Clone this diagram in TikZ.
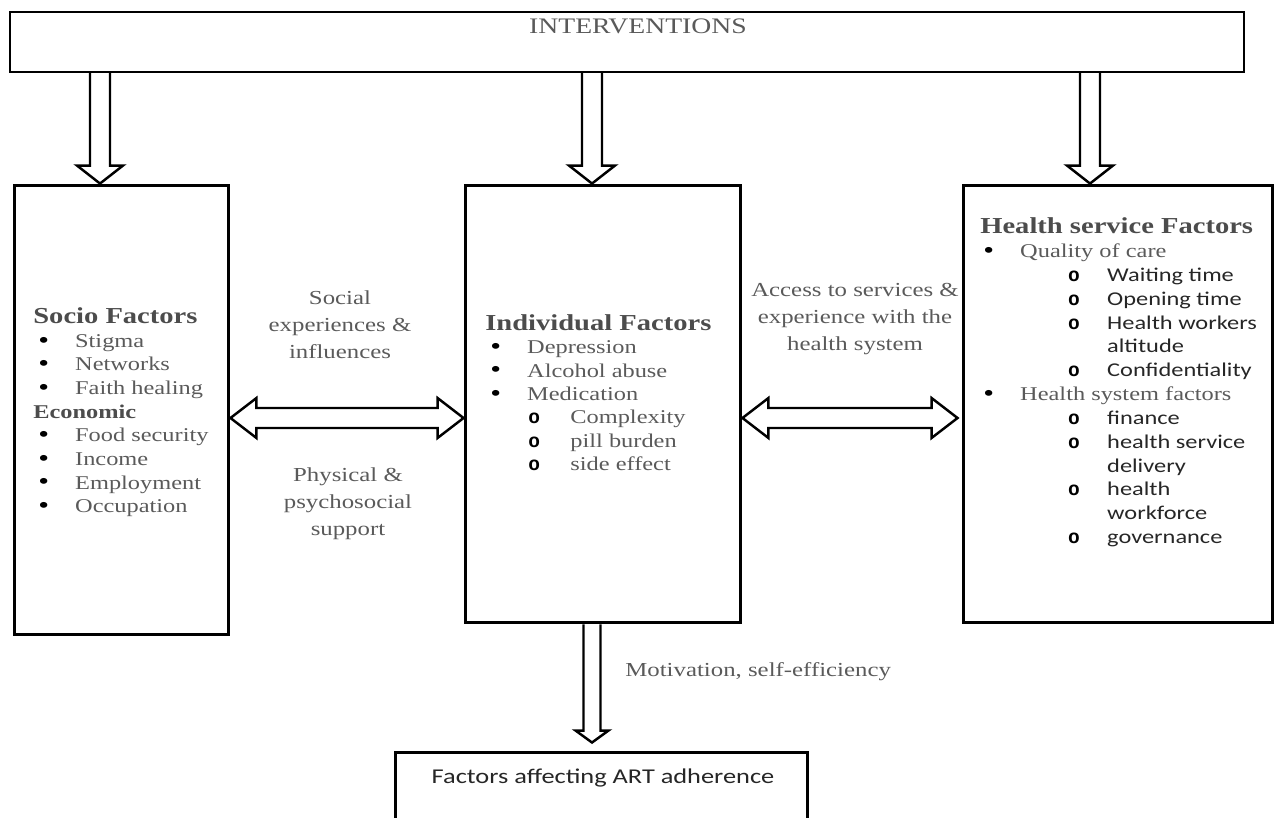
\documentclass[tikz,border=0pt]{standalone}
\usepackage{fontspec}
\setmainfont{Liberation Serif}[FakeStretch=1.25]
\newfontfamily\carlito{Carlito}[FakeStretch=1.25]
\newfontfamily\ringfont{Liberation Mono}
\usetikzlibrary{calc}

\definecolor{txtgrey}{HTML}{5A5A5A}
\definecolor{headgrey}{HTML}{4C4C4C}
\definecolor{sansgrey}{HTML}{262626}

\tikzset{
  factorbox/.style={draw, line width=1.7pt, inner sep=0pt},
  blockarrow/.style={draw, line width=1.4pt},
  listtext/.style={anchor=north west, inner sep=0pt, align=left, text=txtgrey, font=\fontsize{11.1}{13.25}\selectfont},
  linklabel/.style={align=center, inner sep=0pt, text=txtgrey, font=\fontsize{11.3}{15.3}\selectfont}
}

% list helpers
\newcommand{\heading}[1]{{\fontsize{13}{13.25}\selectfont\bfseries\color{headgrey}#1}}
\newcommand{\dotitem}[2]{\hspace*{#1}\makebox[21pt][l]{\color{black}\raisebox{-0.4pt}{\fontsize{14}{14}\selectfont\textbullet}}#2}
\newcommand{\ringitem}[3]{\hspace*{#1}\makebox[#2][l]{\color{black}\ringfont\bfseries o}#3}
\newcommand{\sanstext}[1]{{\carlito\color{sansgrey}#1}}

% hollow arrows: #1 top, #2 tip, #3 shaft half width, #4 head half width, #5 head length
\newcommand{\downblock}[5]{%
  \path[blockarrow] ($#1+(-#3,0)$) -- ($#2+(-#3,-#5)$) -- ($#2+(-#4,-#5)$) -- #2
    -- ($#2+(#4,-#5)$) -- ($#2+(#3,-#5)$) -- ($#1+(#3,0)$);}
% #1 left tip, #2 right tip
\newcommand{\twoway}[2]{%
  \path[blockarrow] #1 -- ($#1+(26,-20)$) -- ($#1+(26,-10)$) -- ($#2+(-26,-10)$) -- ($#2+(-26,-20)$)
    -- #2 -- ($#2+(-26,20)$) -- ($#2+(-26,10)$) -- ($#1+(26,10)$) -- ($#1+(26,20)$) -- cycle;}

\begin{document}
\begin{tikzpicture}[x=0.02cm, y=-0.02cm]
\useasboundingbox (0,0) rectangle (1275,818);
\clip (0,0) rectangle (1275,818);

% boxes
\node[factorbox, line width=0.8pt, minimum width=24.68cm, minimum height=1.2cm] (int) at (627,42) {};
\node[factorbox, minimum width=4.3cm, minimum height=9cm] (soc) at (121.5,410) {};
\node[factorbox, minimum width=5.52cm, minimum height=8.76cm] (ind) at (603,404) {};
\node[factorbox, minimum width=6.2cm, minimum height=8.76cm] (hlth) at (1118,404) {};
\node[factorbox, minimum width=8.26cm, minimum height=2.16cm] (art) at (601.5,806) {};

% titles
\node[anchor=base, inner sep=0pt, text=txtgrey, font=\fontsize{12.6}{15}\selectfont] (inttext) at (638,33) {INTERVENTIONS};
\node[anchor=base, inner sep=0pt, text=sansgrey, font=\carlito\fontsize{12}{14}\selectfont] (arttext) at (603,783) {Factors affecting ART adherence};

% factor lists
\node[listtext, font=\fontsize{11.1}{13.45}\selectfont] (soclist) at (33,307.5) {\heading{Socio Factors}\\
  \dotitem{2.8pt}{Stigma}\\
  \dotitem{2.8pt}{Networks}\\
  \dotitem{2.8pt}{Faith healing}\\
  {\bfseries\color{headgrey}Economic}\\
  \dotitem{2.8pt}{Food security}\\
  \dotitem{2.8pt}{Income}\\
  \dotitem{2.8pt}{Employment}\\
  \dotitem{2.8pt}{Occupation}};
\node[listtext] (indlist) at (485,314.5) {\heading{Individual Factors}\\
  \dotitem{2.8pt}{Depression}\\
  \dotitem{2.8pt}{Alcohol abuse}\\
  \dotitem{2.8pt}{Medication}\\
  \ringitem{24.5pt}{23.9pt}{Complexity}\\
  \ringitem{24.5pt}{23.9pt}{pill burden}\\
  \ringitem{24.5pt}{23.9pt}{side effect}};
\node[listtext, font=\fontsize{11.1}{13.57}\selectfont] (hlthlist) at (980,217.5) {\heading{Health service Factors}\\
  \dotitem{1.7pt}{Quality of care}\\
  \ringitem{50pt}{22.2pt}{\sanstext{Waiting time}}\\
  \ringitem{50pt}{22.2pt}{\sanstext{Opening time}}\\
  \ringitem{50pt}{22.2pt}{\sanstext{Health workers}}\\
  \hspace*{72.2pt}\sanstext{altitude}\\
  \ringitem{50pt}{22.2pt}{\sanstext{Confidentiality}}\\
  \dotitem{1.7pt}{Health system factors}\\
  \ringitem{50pt}{22.2pt}{\sanstext{finance}}\\
  \ringitem{50pt}{22.2pt}{\sanstext{health service}}\\
  \hspace*{72.2pt}\sanstext{delivery}\\
  \ringitem{50pt}{22.2pt}{\sanstext{health}}\\
  \hspace*{72.2pt}\sanstext{workforce}\\
  \ringitem{50pt}{22.2pt}{\sanstext{governance}}};

% link labels
\node[linklabel] (soclink) at (340,325) {Social\\experiences \&\\influences};
\node[linklabel] (supplink) at (348,504) {Physical \&\\psychosocial\\support};
\node[linklabel] (acclink) at (855,319) {Access to services \&\\experience with the\\health system};
\node[linklabel, anchor=base west] (motlink) at (625,676) {Motivation, self-efficiency};

% arrows
\coordinate (socx) at (100,0);
\coordinate (indx) at (592,0);
\coordinate (hlthx) at (1090,0);
\coordinate (lvl) at (0,418);
\coordinate (arttip) at ($(art.north -| indx)+(0,-8)$);
\coordinate (hlthtip) at ($(hlth.west |- lvl)+(-4,0)$);
\downblock{(int.south -| socx)}{(soc.north -| socx)}{10}{23}{18}
\downblock{(int.south -| indx)}{(ind.north -| indx)}{10}{23}{18}
\downblock{(int.south -| hlthx)}{(hlth.north -| hlthx)}{10}{23}{18}
\downblock{(ind.south -| indx)}{(arttip)}{8.5}{16.5}{12}
\twoway{(soc.east |- lvl)}{(ind.west |- lvl)}
\twoway{(ind.east |- lvl)}{(hlthtip)}
\end{tikzpicture}
\end{document}
